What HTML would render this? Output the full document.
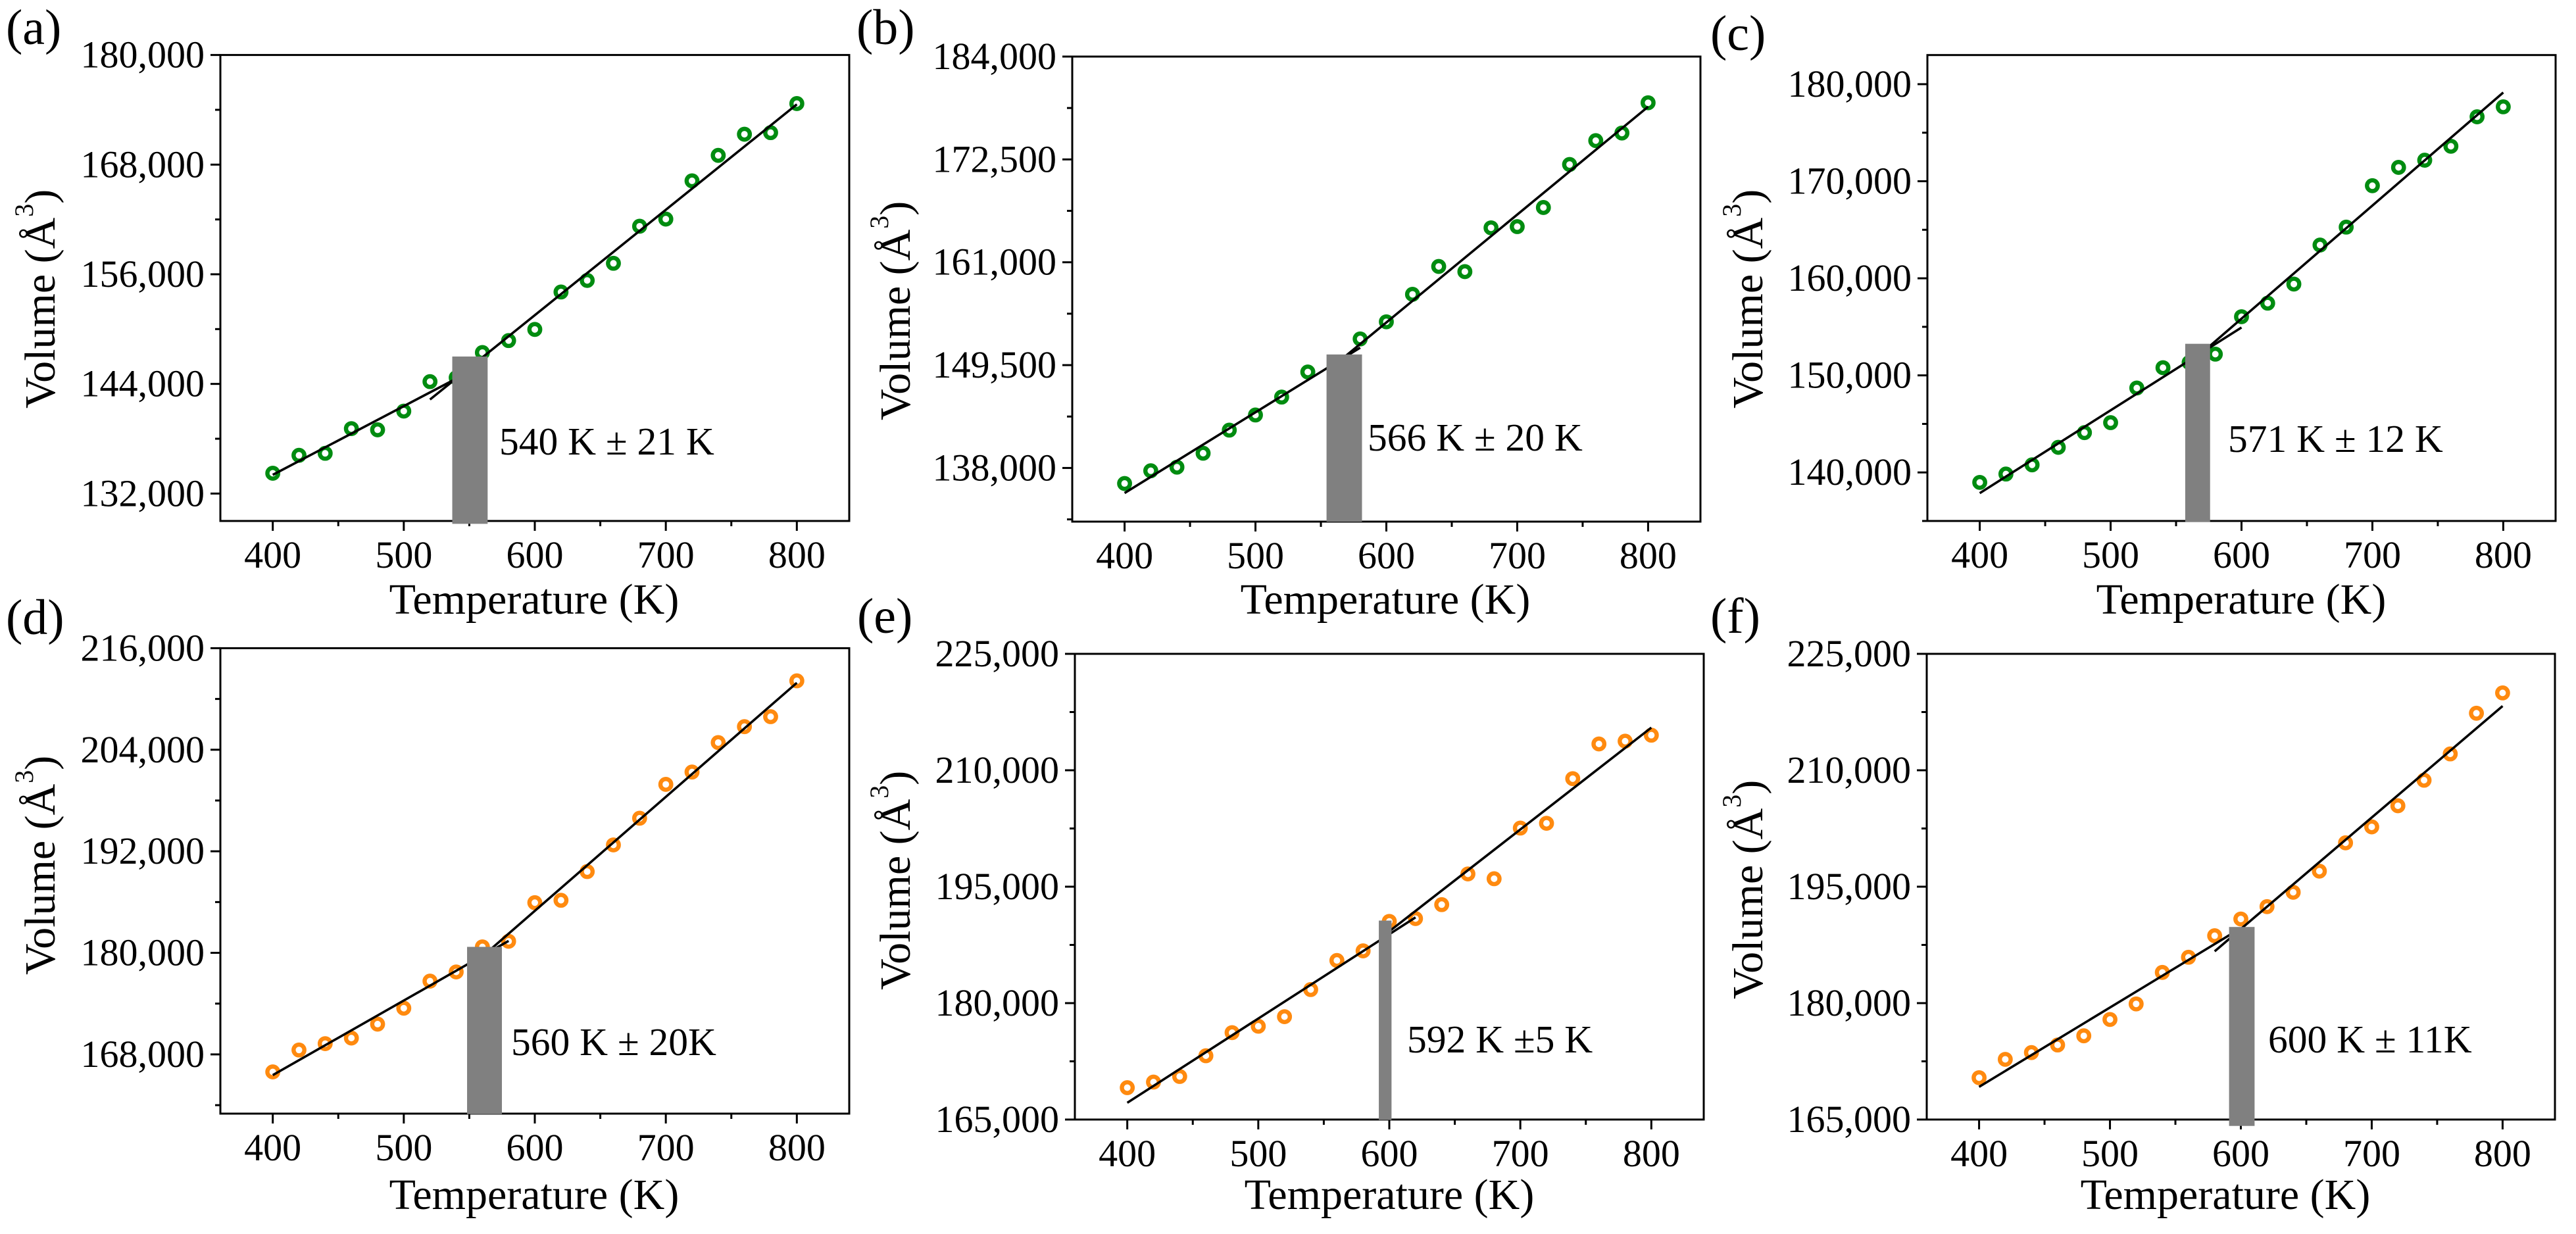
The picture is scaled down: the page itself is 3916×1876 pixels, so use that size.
<!DOCTYPE html>
<html lang="en">
<head>
<meta charset="utf-8">
<title>Volume vs Temperature panels</title>
<style>
html,body{margin:0;padding:0;background:#fff;}
svg{display:block;}
text{font-family:"Liberation Serif","Times New Roman",serif;fill:#000;}
.panel-tag{font-size:76px;}
.tick{font-size:58px;}
.title{font-size:66px;}
.note{font-size:59.5px;}
.sup{font-size:40px;}
</style>
</head>
<body>
<svg id="figure" xmlns="http://www.w3.org/2000/svg" width="3916" height="1876" viewBox="0 0 3916 1876">
  <rect x="0" y="0" width="3916" height="1876" fill="#fff"/>

  <g id="panel-a">
    <text class="panel-tag" x="9" y="67">(a)</text>
    <text class="title" transform="translate(83 621) rotate(-90)">Volume (Å<tspan class="sup" dx="1" dy="-33">3</tspan><tspan dy="33">)</tspan></text>
    <text class="title" x="812" y="933" text-anchor="middle">Temperature (K)</text>
    <text class="note" x="759" y="691">540 K ± 21 K</text>
  </g>
  <g id="panel-b">
    <text class="panel-tag" x="1302" y="67">(b)</text>
    <text class="title" transform="translate(1383 639) rotate(-90)">Volume (Å<tspan class="sup" dx="1" dy="-33">3</tspan><tspan dy="33">)</tspan></text>
    <text class="title" x="2106" y="933" text-anchor="middle">Temperature (K)</text>
    <text class="note" x="2079" y="685">566 K ± 20 K</text>
  </g>
  <g id="panel-c">
    <text class="panel-tag" x="2600" y="76">(c)</text>
    <text class="title" transform="translate(2679 621) rotate(-90)">Volume (Å<tspan class="sup" dx="1" dy="-33">3</tspan><tspan dy="33">)</tspan></text>
    <text class="title" x="3407" y="933" text-anchor="middle">Temperature (K)</text>
    <text class="note" x="3387" y="687">571 K ± 12 K</text>
  </g>
  <g id="panel-d">
    <text class="panel-tag" x="9" y="964">(d)</text>
    <text class="title" transform="translate(83 1482) rotate(-90)">Volume (Å<tspan class="sup" dx="1" dy="-33">3</tspan><tspan dy="33">)</tspan></text>
    <text class="title" x="812" y="1838" text-anchor="middle">Temperature (K)</text>
    <text class="note" x="777" y="1604">560 K ± 20K</text>
  </g>
  <g id="panel-e">
    <text class="panel-tag" x="1303" y="962">(e)</text>
    <text class="title" transform="translate(1383 1505) rotate(-90)">Volume (Å<tspan class="sup" dx="1" dy="-33">3</tspan><tspan dy="33">)</tspan></text>
    <text class="title" x="2112" y="1838" text-anchor="middle">Temperature (K)</text>
    <text class="note" x="2139" y="1600">592 K ±5 K</text>
  </g>
  <g id="panel-f">
    <text class="panel-tag" x="2600" y="962">(f)</text>
    <text class="title" transform="translate(2679 1519) rotate(-90)">Volume (Å<tspan class="sup" dx="1" dy="-33">3</tspan><tspan dy="33">)</tspan></text>
    <text class="title" x="3383" y="1838" text-anchor="middle">Temperature (K)</text>
    <text class="note" x="3448" y="1600">600 K ± 11K</text>
  </g>
</svg>

<script>
// Shared x axis
const temperatures = [400,420,440,460,480,500,520,540,560,580,600,620,640,660,680,700,720,740,760,780,800];
const xDomain = [360,840];
const xTicks = [400,500,600,700,800];
const xTickLabels = ['400','500','600','700','800'];
const xMinorTicks = [450,550,650,750];

// Panel (a)
const volumesA = [134224,136186,136404,139107,138976,141025,144252,144688,147434,148742,149963,154062,155326,157201,161256,162040,166226,169016,171327,171502,174684];
const yDomainA = [129000,180000];
const yTicksA = [132000,144000,156000,168000,180000];
const yTickLabelsA = ['132,000','144,000','156,000','168,000','180,000'];
const fitLowTempA = [400,538];
const fitLowVolA = [134049,144426];
const fitHighTempA = [520,800];
const fitHighVolA = [142290,174597];
const bandTempA = [537,564];
const bandVolA = [128686,146998];

// Panel (b)
const volumesB = [136263,137688,138089,139648,142230,143922,145926,148732,149300,152428,154343,157415,160532,159953,164852,164985,167123,171932,174604,175450,178834];
const yDomainB = [132000,184000];
const yTicksB = [138000,149500,161000,172500,184000];
const yTickLabelsB = ['138,000','149,500','161,000','172,500','184,000'];
const fitLowTempB = [400,580];
const fitLowVolB = [135195,151448];
const fitHighTempB = [560,800];
const fitHighVolB = [149444,178389];
const bandTempB = [554.3,581.4];
const bandVolB = [131988,150691];

// Panel (c)
const volumesC = [138974,139836,140780,142585,144103,145129,148698,150791,151324,152186,156043,157438,159407,163428,165274,169542,171429,172168,173604,176640,177666];
const yDomainC = [135000,183000];
const yTicksC = [140000,150000,160000,170000,180000];
const yTickLabelsC = ['140,000','150,000','160,000','170,000','180,000'];
const fitLowTempC = [400,600];
const fitLowVolC = [137866,154935];
const fitHighTempC = [576,800];
const fitHighVolC = [153048,179143];
const bandTempC = [557,576];
const bandVolC = [134912,153253];

// Panel (d)
const volumesD = [165929,168518,169271,169929,171577,173459,176659,177741,180706,181365,185930,186212,189601,192754,195907,199907,201366,204848,206730,207907,212142];
const yDomainD = [161000,216000];
const yTicksD = [168000,180000,192000,204000,216000];
const yTickLabelsD = ['168,000','180,000','192,000','204,000','216,000'];
const fitLowTempD = [400,580];
const fitLowVolD = [165553,181412];
const fitHighTempD = [566,800];
const fitHighVolD = [180377,211907];
const bandTempD = [548.3,574.9];
const bandVolD = [160941,180706];

// Panel (e)
const volumesE = [169110,169829,170548,173219,176199,177021,178253,181747,185497,186730,190531,190890,192688,196644,196027,202551,203168,208921,213391,213750,214521];
const yDomainE = [165000,225000];
const yTicksE = [165000,180000,195000,210000,225000];
const yTickLabelsE = ['165,000','180,000','195,000','210,000','225,000'];
const fitLowTempE = [400,620];
const fitLowVolE = [167158,191045];
const fitHighTempE = [600,800];
const fitHighVolE = [189247,215497];
const bandTempE = [592,601.7];
const bandVolE = [164949,190634];

// Panel (f)
const volumesF = [170394,172757,173630,174606,175788,177894,179897,183956,185908,188682,190839,192432,194281,197004,200651,202706,205428,208716,212106,217347,219966];
const yDomainF = [165000,225000];
const yTicksF = [165000,180000,195000,210000,225000];
const yTickLabelsF = ['165,000','180,000','195,000','210,000','225,000'];
const fitLowTempF = [400,594];
const fitLowVolF = [169212,189041];
const fitHighTempF = [580,800];
const fitHighVolF = [186678,218271];
const bandTempF = [591,610.5];
const bandVolF = [164178,189812];

const GREEN = '#008C10';
const ORANGE = '#FF8A0F';
const NS = 'http://www.w3.org/2000/svg';

function make(tag, parent, attrs) {
  const node = document.createElementNS(NS, tag);
  for (const key in attrs) node.setAttribute(key, attrs[key]);
  parent.appendChild(node);
  return node;
}

function drawPanel(p) {
  const root = document.getElementById('panel-' + p.id);
  const sx = v => p.left + (v - xDomain[0]) / (xDomain[1] - xDomain[0]) * (p.right - p.left);
  const sy = v => p.bottom - (v - p.yDomain[0]) / (p.yDomain[1] - p.yDomain[0]) * (p.bottom - p.top);

  const marks = make('g', root, {});
  
  
  temperatures.forEach((t, i) => {
    const c = make('circle', marks, {cx: sx(t), cy: sy(p.volumes[i]), r: 8.2, fill: 'none', stroke: p.color, 'stroke-width': 6.4});
    
    
  });

  const fitLow = make('line', root, {x1: sx(p.fitLowTemp[0]), y1: sy(p.fitLowVol[0]), x2: sx(p.fitLowTemp[1]), y2: sy(p.fitLowVol[1]), stroke: '#000', 'stroke-width': 3.6});
  
  
  const fitHigh = make('line', root, {x1: sx(p.fitHighTemp[0]), y1: sy(p.fitHighVol[0]), x2: sx(p.fitHighTemp[1]), y2: sy(p.fitHighVol[1]), stroke: '#000', 'stroke-width': 3.6});
  
  

  const frame = make('rect', root, {x: p.left, y: p.top, width: p.right - p.left, height: p.bottom - p.top, fill: 'none', stroke: '#000', 'stroke-width': 3});
  
  

  xTicks.forEach((t, i) => {
    const tick = make('line', root, {x1: sx(t), x2: sx(t), y1: p.bottom, y2: p.bottom + 15, stroke: '#000', 'stroke-width': 3});
    
    
    const label = make('text', root, {x: sx(t), y: p.bottom + 71, 'text-anchor': 'middle', class: 'tick'});
    label.textContent = xTickLabels[i];
    
    
  });
  xMinorTicks.forEach(t => {
    const tick = make('line', root, {x1: sx(t), x2: sx(t), y1: p.bottom, y2: p.bottom + 8, stroke: '#000', 'stroke-width': 3});
    
    
  });

  p.yTicks.forEach((v, i) => {
    const tick = make('line', root, {x1: p.left - 15, x2: p.left, y1: sy(v), y2: sy(v), stroke: '#000', 'stroke-width': 3});
    
    
    const label = make('text', root, {x: p.left - 24, y: sy(v) + 19, 'text-anchor': 'end', class: 'tick'});
    label.textContent = p.yTickLabels[i];
    
    
  });
  const step = p.yTicks[1] - p.yTicks[0];
  for (let m = p.yTicks[0] - step / 2; m < p.yDomain[1]; m += step) {
    if (m < p.yDomain[0]) continue;
    const tick = make('line', root, {x1: p.left - 8, x2: p.left, y1: sy(m), y2: sy(m), stroke: '#000', 'stroke-width': 3});
    
    
  }

  const band = make('rect', root, {x: sx(p.bandTemp[0]), y: sy(p.bandVol[1]), width: sx(p.bandTemp[1]) - sx(p.bandTemp[0]), height: sy(p.bandVol[0]) - sy(p.bandVol[1]), fill: '#808080'});
  
  
}

drawPanel({id:'a', left:335, right:1291, top:83.6, bottom:792, color:GREEN, volumes:volumesA, yDomain:yDomainA, yTicks:yTicksA, yTickLabels:yTickLabelsA, fitLowTemp:fitLowTempA, fitLowVol:fitLowVolA, fitHighTemp:fitHighTempA, fitHighVol:fitHighVolA, bandTemp:bandTempA, bandVol:bandVolA});
drawPanel({id:'b', left:1630, right:2585, top:86, bottom:793, color:GREEN, volumes:volumesB, yDomain:yDomainB, yTicks:yTicksB, yTickLabels:yTickLabelsB, fitLowTemp:fitLowTempB, fitLowVol:fitLowVolB, fitHighTemp:fitHighTempB, fitHighVol:fitHighVolB, bandTemp:bandTempB, bandVol:bandVolB});
drawPanel({id:'c', left:2930, right:3885, top:83.7, bottom:792, color:GREEN, volumes:volumesC, yDomain:yDomainC, yTicks:yTicksC, yTickLabels:yTickLabelsC, fitLowTemp:fitLowTempC, fitLowVol:fitLowVolC, fitHighTemp:fitHighTempC, fitHighVol:fitHighVolC, bandTemp:bandTempC, bandVol:bandVolC});
drawPanel({id:'d', left:335, right:1291, top:985.4, bottom:1693, color:ORANGE, volumes:volumesD, yDomain:yDomainD, yTicks:yTicksD, yTickLabels:yTickLabelsD, fitLowTemp:fitLowTempD, fitLowVol:fitLowVolD, fitHighTemp:fitHighTempD, fitHighVol:fitHighVolD, bandTemp:bandTempD, bandVol:bandVolD});
drawPanel({id:'e', left:1634, right:2590, top:994, bottom:1702, color:ORANGE, volumes:volumesE, yDomain:yDomainE, yTicks:yTicksE, yTickLabels:yTickLabelsE, fitLowTemp:fitLowTempE, fitLowVol:fitLowVolE, fitHighTemp:fitHighTempE, fitHighVol:fitHighVolE, bandTemp:bandTempE, bandVol:bandVolE});
drawPanel({id:'f', left:2929, right:3884, top:994, bottom:1702, color:ORANGE, volumes:volumesF, yDomain:yDomainF, yTicks:yTicksF, yTickLabels:yTickLabelsF, fitLowTemp:fitLowTempF, fitLowVol:fitLowVolF, fitHighTemp:fitHighTempF, fitHighVol:fitHighVolF, bandTemp:bandTempF, bandVol:bandVolF});
</script>
</body>
</html>
